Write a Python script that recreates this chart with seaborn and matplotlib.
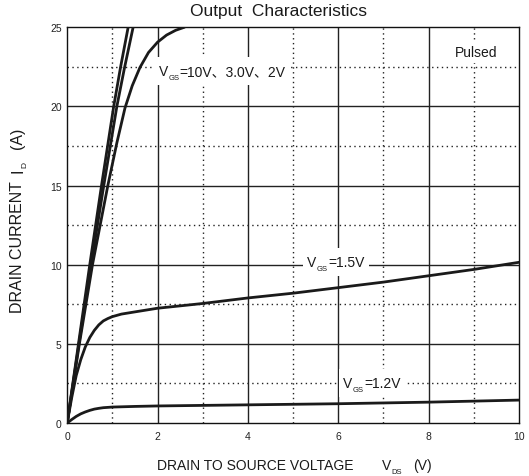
import matplotlib
matplotlib.use("Agg")
import matplotlib.pyplot as plt
from matplotlib.transforms import IdentityTransform
from matplotlib.patches import Rectangle
import seaborn as sns
import pandas as pd

# Drain current (A) vs drain-source voltage (V) for each gate voltage
vds_10v = [0.0, 0.25, 0.5, 0.76, 1.03, 1.18, 1.35]
id_10v = [0.0, 5.0, 10.0, 15.0, 20.0, 22.45, 25.0]

vds_3v = [0.0, 0.26, 0.53, 0.81, 1.1, 1.27, 1.46]
id_3v = [0.0, 5.0, 10.0, 15.0, 20.0, 22.45, 25.0]

vds_2v = [0.0, 0.27, 0.56, 0.9, 1.1, 1.28, 1.44, 1.61, 1.8, 2.0, 2.2, 2.4, 2.6]
id_2v = [0.0, 5.0, 10.0, 15.0, 17.7, 19.9, 21.3, 22.45, 23.4, 24.05, 24.5, 24.8, 25.0]

vds_15v = [0.0, 0.05, 0.1, 0.2, 0.3, 0.4, 0.5, 0.6, 0.7, 0.8, 0.9, 1.0, 1.2, 1.5, 2.0,
           3.0, 4.0, 5.0, 6.0, 7.0, 8.0, 9.0, 10.0]
id_15v = [0.0, 0.8, 1.6, 3.0, 4.0, 4.8, 5.4, 5.85, 6.2, 6.45, 6.6, 6.72, 6.88, 7.02, 7.25,
          7.55, 7.9, 8.2, 8.55, 8.9, 9.3, 9.7, 10.15]

vds_12v = [0.0, 0.1, 0.2, 0.3, 0.4, 0.5, 0.6, 0.7, 0.8, 1.0, 1.5, 2.0, 4.0, 6.0, 8.0, 10.0]
id_12v = [0.0, 0.22, 0.42, 0.58, 0.7, 0.8, 0.88, 0.93, 0.97, 1.01, 1.05, 1.08, 1.15, 1.22, 1.32, 1.45]

curves = [
    ("10V", vds_10v, id_10v),
    ("3.0V", vds_3v, id_3v),
    ("2V", vds_2v, id_2v),
    ("1.5V", vds_15v, id_15v),
    ("1.2V", vds_12v, id_12v),
]

x_ticks = [0, 2, 4, 6, 8, 10]
y_ticks = [0, 5, 10, 15, 20, 25]
x_minor = [1, 3, 5, 7, 9]
y_minor = [2.5, 7.5, 12.5, 17.5, 22.5]

sns.set_theme(style="white")
plt.rcParams["font.family"] = ["Liberation Sans", "Noto Sans CJK SC", "DejaVu Sans"]

fig = plt.figure(figsize=(5.29, 4.77), dpi=100)
ax = fig.add_axes([0.127, 0.111, 0.854, 0.830])
ink = "#1a1a1a"

# grid: solid at major ticks, dotted at midpoints
for xv in x_ticks[1:-1]:
    ax.axvline(xv, color="#222222", lw=1.0, zorder=1)
for yv in y_ticks[1:-1]:
    ax.axhline(yv, color="#222222", lw=1.0, zorder=1)
for xv in x_minor:
    ax.axvline(xv, color="#222222", lw=1.0, ls=(0, (1, 2.5)), zorder=1)
for yv in y_minor:
    ax.axhline(yv, color="#222222", lw=1.0, ls=(0, (1, 2.5)), zorder=1)

frames = [pd.DataFrame({"VDS": xs, "ID": ys, "VGS": name}) for name, xs, ys in curves]
df = pd.concat(frames, ignore_index=True)

for name, _, _ in curves:
    sns.lineplot(data=df[df["VGS"] == name], x="VDS", y="ID", color=ink,
                 lw=2.0, sort=False, estimator=None, ax=ax, zorder=3)

ax.set_xlim(0, 10)
ax.set_ylim(0, 25)
ax.set_xticks(x_ticks)
ax.set_yticks(y_ticks)
ax.tick_params(length=0, labelsize=7.5, colors="#222222")
ax.tick_params(axis="x", pad=6)
ax.tick_params(axis="y", pad=4)
for s in ax.spines.values():
    s.set_color("#111111")
    s.set_linewidth(1.0)
ax.set_xlabel("")
ax.set_ylabel("")

renderer = fig.canvas.get_renderer()
px = IdentityTransform()


def chain_text(owner, x0, y0, pieces, rotation=0, z=6):
    """Lay out text pieces one after another starting at a baseline point
    given in pixels. Each piece is (text, size, shift_px, gap_px)."""
    pos = 0.0
    out = []
    for text, size, shift, gap in pieces:
        pos += gap
        if rotation == 0:
            xy = (x0 + pos, y0 - shift)
        else:
            xy = (x0 + shift, y0 + pos)
        t = owner.text(xy[0], xy[1], text, transform=px, fontsize=size,
                       rotation=rotation, rotation_mode="anchor", ha="left",
                       va="baseline", color=ink, zorder=z, clip_on=False)
        bb = t.get_window_extent(renderer)
        pos += bb.width if rotation == 0 else bb.height
        out.append(t)
    return out


def backing(texts, padx=4, pad_top=7, pad_bot=4):
    # white patch that interrupts the grid behind a label
    bbs = [t.get_window_extent(renderer) for t in texts]
    x0 = min(b.x0 for b in bbs) - padx
    x1 = max(b.x1 for b in bbs) + padx
    y0 = min(b.y0 for b in bbs) - pad_bot
    y1 = max(b.y1 for b in bbs) + pad_top
    ax.add_artist(Rectangle((x0, y0), x1 - x0, y1 - y0, transform=px,
                            facecolor="white", edgecolor="none", zorder=4))


def vgs_label(x, y, rest, fs=10):
    bx, by = ax.transData.transform((x, y))
    texts = chain_text(ax, bx, by, [("V", fs, 0, 0), ("GS", fs * 0.55, 4, 0.5),
                                    (rest, fs, 0, 0.5)])
    backing(texts)


vgs_label(2.02, 21.95, "=10V、3.0V、2V")
vgs_label(5.31, 9.92, "=1.5V")
vgs_label(6.1, 2.27, "=1.2V")

bx, by = ax.transData.transform((8.58, 23.17))
backing(chain_text(ax, bx, by, [("Pulsed", 10, 0, 0)]), pad_top=4)

fig.text(0.527, 0.975, "Output  Characteristics", fontsize=12.5, ha="center",
         va="center", color=ink)

# axis titles with subscripts
H = 477
chain_text(fig, 157, H - 470, [("DRAIN TO SOURCE VOLTAGE", 10, 0, 0),
                               ("V", 10, 0, 28), ("DS", 5.5, 4, 0.5),
                               ("(V)", 10, 0, 11)])
chain_text(fig, 22, H - 313, [("DRAIN CURRENT", 11.5, 0, 0),
                              ("I", 11.5, 0, 8), ("D", 6, 4, 0.5),
                              ("(A)", 11.5, 0, 13)], rotation=90)

fig.savefig("out.png", dpi=100)
